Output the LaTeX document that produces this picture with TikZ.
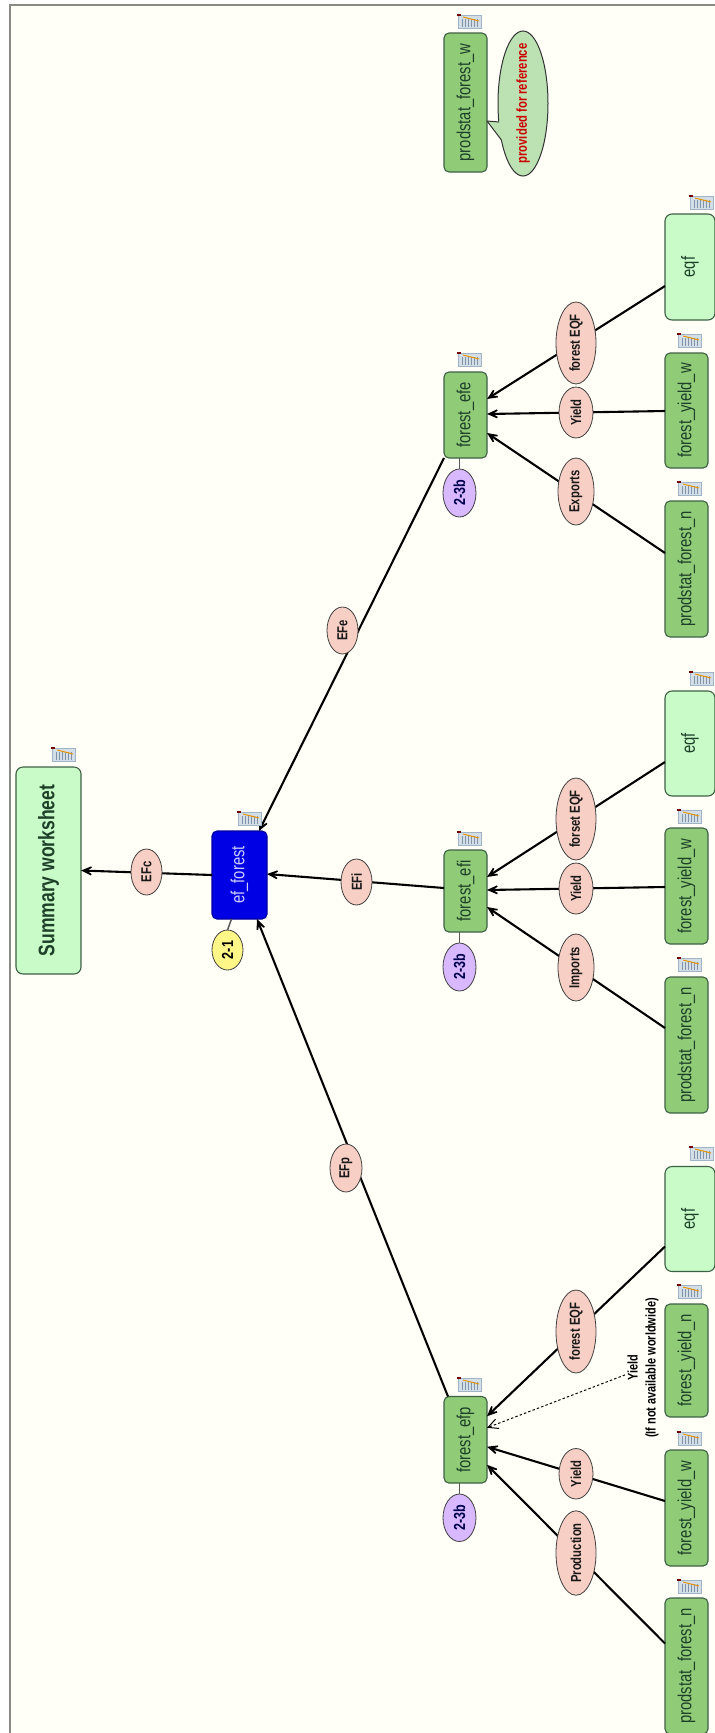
\documentclass[tikz,border=0pt]{standalone}
\usepackage{fontspec}
\usetikzlibrary{shapes.geometric,arrows.meta}
\newfontfamily\nf[FakeStretch=0.78]{Liberation Sans}
\definecolor{bgc}{HTML}{FFFFF8}
\definecolor{frm}{HTML}{8A8A84}
\definecolor{gfill}{HTML}{90CB78}
\definecolor{lgfill}{HTML}{C8FBC8}
\definecolor{gedge}{HTML}{3E6045}
\definecolor{gtext}{HTML}{1E4028}
\definecolor{pinkf}{HTML}{F8CFC4}
\definecolor{purf}{HTML}{D8B8FF}
\definecolor{yelf}{HTML}{FFF688}
\definecolor{bluef}{HTML}{0000E4}
\definecolor{calf}{HTML}{BCE2B4}
\definecolor{icf}{HTML}{D4DEE6}
\definecolor{icl}{HTML}{9FB4C6}
\definecolor{icb}{HTML}{7F93A8}
\tikzset{
  base/.style={inner sep=0pt,outer sep=0pt,align=center},
  gbox/.style={base,rectangle,rounded corners=5pt,draw=gedge,line width=1.1pt,fill=gfill,text=gtext,font=\nf\fontsize{19}{21}\selectfont},
  lbox/.style={gbox,fill=lgfill,rounded corners=7pt},
  bbox/.style={gbox,fill=bluef,draw=bluef!70!black,text=white!80!blue,rounded corners=5pt},
  lab/.style={base,ellipse,draw=black!75,line width=0.8pt,fill=pinkf,text=black!90,font=\nf\bfseries\fontsize{14.5}{16}\selectfont},
  tag/.style={lab,fill=purf,text=blue!30!black,font=\nf\bfseries\fontsize{16}{18}\selectfont},
  ytag/.style={tag,fill=yelf,text=black},
  conn/.style={draw=black,line width=2.1pt},
  arr/.style={conn,-{Stealth[length=18pt,width=16pt,inset=12pt]}},
  stalk/.style={draw=black!65,line width=1.5pt},
  dotarr/.style={draw=black,line width=1pt,dash pattern=on 2.4pt off 2.2pt,-{Straight Barb[length=10pt,width=10pt]}},
  sheet/.pic={
    \fill[icf] (0,0) rectangle (23,13);
    \draw[icl,line width=0.8pt] (0,0) rectangle (23,13);
    \foreach \q in {4,7,10,13,16,19}{\draw[icb,line width=0.8pt] (\q,4) -- (\q,12);}
    \draw[orange!70!yellow!90!black,line width=1pt] (5,2) -- (21,6);
    \fill[red!45!black] (-1,-1) rectangle (3,0.6);
  }
}
% box from its corners: style, name, x1, y1, x2, y2, text
\newcommand{\bx}[7]{\node[#1,minimum width={#5-#3},minimum height={#6-#4}] (#2) at ({(#3+#5)/2},{(#4+#6)/2}) {\rotatebox{90}{#7}};}
\begin{document}
\begin{tikzpicture}[x=1pt,y=-1pt]
\useasboundingbox (0,0) rectangle (715,1733);
\fill[white] (0,0) rectangle (715,1733);
\path[fill=bgc,draw=frm,line width=1.2pt] (10,5) rectangle (730,1750);

% rectangular nodes
\bx{lbox}{summary}{16}{767}{81}{974}{\fontsize{22.5}{25}\selectfont\bfseries Summary worksheet}
\bx{bbox}{ef}{212}{831}{267}{919}{ef\_forest}

\bx{gbox}{efp}{444}{1396.5}{487}{1483}{forest\_efp}
\bx{gbox}{efi}{444}{850}{487}{932}{forest\_efi}
\bx{gbox}{efe}{444}{372}{487}{458}{forest\_efe}
\bx{gbox}{pw}{444}{33}{487}{172}{prodstat\_forest\_w}

\bx{lbox}{eqp}{665}{1166.5}{715}{1271.5}{eqf}
\bx{gbox}{ynp}{665}{1304}{708}{1417}{forest\_yield\_n}
\bx{gbox}{ywp}{665}{1450}{708}{1566}{forest\_yield\_w}
\bx{gbox}{pnp}{665}{1598}{708}{1734}{prodstat\_forest\_n}

\bx{lbox}{eqi}{665}{691}{715}{796}{eqf}
\bx{gbox}{ywi}{665}{828}{708}{944}{forest\_yield\_w}
\bx{gbox}{pni}{665}{977}{708}{1113}{prodstat\_forest\_n}

\bx{lbox}{eqe}{665}{214}{715}{320}{eqf}
\bx{gbox}{ywe}{665}{353}{708}{468}{forest\_yield\_w}
\bx{gbox}{pne}{665}{501}{708}{637}{prodstat\_forest\_n}

% connectors
\draw[arr] (ef.west) -- (summary.east);
\draw[arr] ([yshift=3pt]efi.west) -- ([yshift=1pt]ef.east);
\draw[arr] ([xshift=-21.5pt]efe.south) -- ([xshift=19.5pt]ef.north);
\draw[arr] ([xshift=-17.5pt]efp.north) -- ([xshift=17.5pt]ef.south);

\draw[arr] ([yshift=-27.5pt]eqp.west) -- ([yshift=23.5pt]efp.east);
\draw[arr] ([yshift=7pt]ywp.west) -- ([yshift=-7pt]efp.east);
\draw[arr] ([yshift=22.5pt]pnp.west) -- ([yshift=-25pt]efp.east);

\draw[arr] ([yshift=-18.5pt]eqi.west) -- ([yshift=14pt]efi.east);
\draw[arr] ([yshift=-1pt]ywi.west) -- ([yshift=1pt]efi.east);
\draw[arr] ([yshift=17pt]pni.west) -- ([yshift=-16pt]efi.east);

\draw[arr] ([yshift=-19pt]eqe.west) -- ([yshift=16pt]efe.east);
\draw[arr] ([yshift=-0.5pt]ywe.west) -- ([yshift=1pt]efe.east);
\draw[arr] ([yshift=16pt]pne.west) -- ([yshift=-18pt]efe.east);

% connector labels
\bx{lab}{lc}{131}{849}{162}{895}{EFc}
\bx{lab}{li}{341}{859}{372}{905}{EFi}
\bx{lab}{le}{327}{607}{358}{654}{EFe}
\bx{lab}{lp}{330}{1144}{362}{1192}{EFp}

\bx{lab}{lp1}{556}{1290}{596}{1373}{forest EQF}
\bx{lab}{lp2}{559}{1448.5}{593}{1499}{Yield}
\bx{lab}{lp3}{556}{1511}{596}{1595}{Production}

\bx{lab}{li1}{556}{778}{596}{860}{forset EQF}
\bx{lab}{li2}{559}{863}{593}{914}{Yield}
\bx{lab}{li3}{558}{934}{594}{1001}{Imports}

\bx{lab}{le1}{556}{302}{596}{384}{forest EQF}
\bx{lab}{le2}{559}{387}{593}{438}{Yield}
\bx{lab}{le3}{558}{458}{594}{525}{Exports}

% dotted alternative
\node[base,text=black,font=\nf\bfseries\fontsize{14}{18}\selectfont] (dotlab) at (643,1368)
  {\rotatebox{90}{\begin{tabular}{@{}c@{}}Yield\\(If not available worldwide)\end{tabular}}};
\draw[dotarr] (dotlab) -- ([yshift=12pt]efp.east);

% page references
\bx{ytag}{t0}{212}{930}{243}{970}{2-1}
\bx{tag}{t1}{443}{1494}{476}{1541.5}{2-3b}
\bx{tag}{t2}{443}{943}{476}{991}{2-3b}
\bx{tag}{t3}{443}{469}{476}{517}{2-3b}
\draw[stalk] ([xshift=-8pt]ef.south) -- (t0.north);
\draw[stalk] ([xshift=-6pt]efp.south) -- (t1.north);
\draw[stalk] ([xshift=-6pt]efi.south) -- (t2.north);
\draw[stalk] ([xshift=-6pt]efe.south) -- (t3.north);

% callout
\node[base,ellipse,draw=black!80,line width=1pt,fill=calf,minimum width=50pt,minimum height=145pt] (call) at (523,103.5) {};
\node[base,text=red!80!black,font=\nf\bfseries\fontsize{14.5}{16}\selectfont] (calltext) at (call.center) {\rotatebox{90}{provided for reference}};
\fill[calf] ([yshift=-18.5pt]pw.east) -- (499.6,121) -- (502.4,141) -- cycle;
\draw[black!80,line width=1pt,line join=round] (498.8,122) -- ([yshift=-18.5pt]pw.east) -- (501.4,140);

% worksheet icons
\foreach \ix/\iy in {52/748,238/812,458/1378,458/832,458/353,458/15,
  690/1147,678/1285,678/1432,678/1580,
  690/672,678/810,678/958,
  690/196,678/334,678/482}
  {\pic at (\ix,\iy) {sheet};}
\end{tikzpicture}
\end{document}
